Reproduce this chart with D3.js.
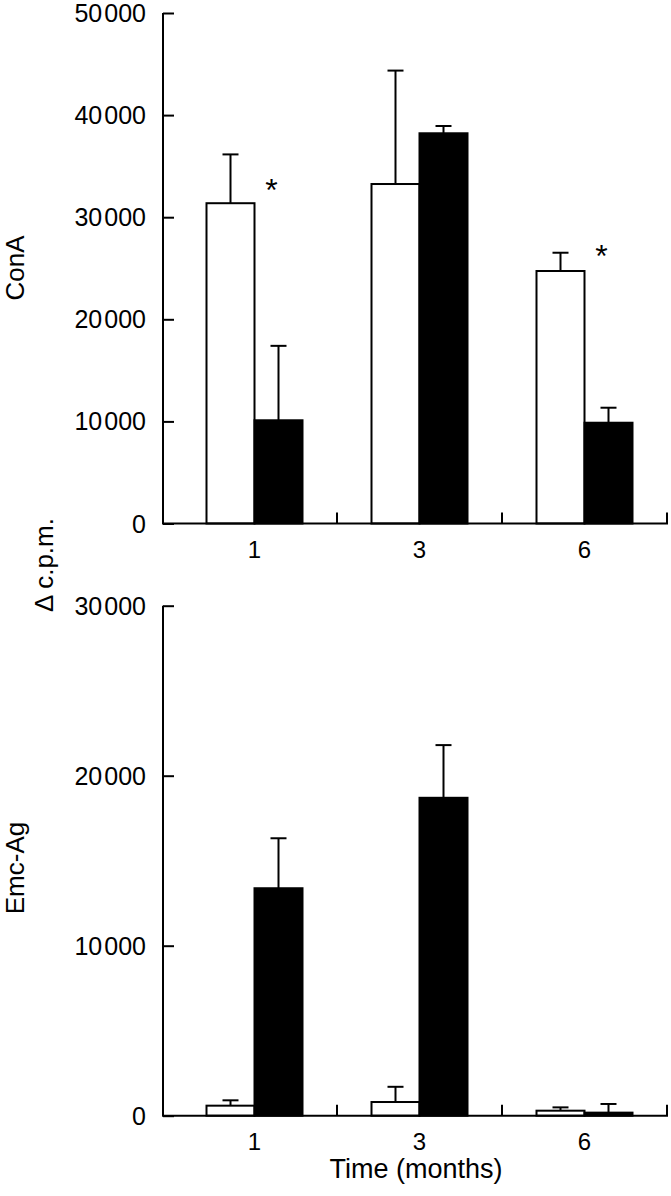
<!DOCTYPE html>
<html>
<head>
<meta charset="utf-8">
<script src="https://cdn.jsdelivr.net/npm/d3@7"></script>
<style>
  body { margin: 0; background: #fff; }
  text { font-family: "Liberation Sans", Arial, Helvetica, sans-serif; fill: #000; }
</style>
</head>
<body>
<div id="chart"></div>
<script>
// categories (time in months)
var months = ["1", "3", "6"];

// ConA panel: open bars, filled bars and their error (upper SD)
var conaOpen = [31370, 33250, 24730];
var conaOpenErr = [4780, 11110, 1790];
var conaFilled = [10110, 38220, 9870];
var conaFilledErr = [7290, 710, 1470];
var conaTicks = [0, 10000, 20000, 30000, 40000, 50000];
// significance stars (month, value where the star sits)
var conaStars = [["1", 33400], ["6", 26900]];

// Emc-Ag panel
var emcOpen = [590, 805, 295];
var emcOpenErr = [315, 895, 195];
var emcFilled = [13380, 18700, 180];
var emcFilledErr = [2940, 3100, 510];
var emcTicks = [0, 10000, 20000, 30000];

var width = 671, height = 1196;
var axisX = 163;
var barW = 48;

var svg = d3.select("#chart")
  .append("svg")
    .attr("width", width)
    .attr("height", height);

// shared band scale for the three time points
var x = d3.scaleBand()
  .domain(months)
  .range([172, 667]);

// tick label format "50 000" with a hair space
function fmt(v) {
  return d3.format(",")(v).replace(",", "\u200A");
}

function drawPanel(opt) {
  var y = d3.scaleLinear()
    .domain([0, opt.max])
    .range([opt.bottom, opt.top]);

  var g = svg.append("g");

  // bars: open (white) left of band centre, filled (black) right
  months.forEach(function(m, i) {
    var c = x(m) + x.bandwidth() / 2;
    var sets = [
      {v: opt.open[i], e: opt.openErr[i], x0: c - barW, fill: "#fff"},
      {v: opt.filled[i], e: opt.filledErr[i], x0: c, fill: "#000"}
    ];
    sets.forEach(function(s) {
      var cx = s.x0 + barW / 2;
      // error bar line + cap
      g.append("line")
        .attr("x1", cx).attr("x2", cx)
        .attr("y1", y(s.v)).attr("y2", y(s.v + s.e))
        .attr("stroke", "#000").attr("stroke-width", 2);
      g.append("line")
        .attr("x1", cx - 8).attr("x2", cx + 8)
        .attr("y1", y(s.v + s.e)).attr("y2", y(s.v + s.e))
        .attr("stroke", "#000").attr("stroke-width", 2);
      g.append("rect")
        .attr("x", s.x0)
        .attr("y", y(s.v))
        .attr("width", barW)
        .attr("height", y(0) - y(s.v))
        .attr("fill", s.fill)
        .attr("stroke", "#000")
        .attr("stroke-width", 2);
    });
  });

  // y axis (ticks pointing inward)
  var yAxis = d3.axisRight(y)
    .tickValues(opt.ticks)
    .tickSize(11)
    .tickFormat("");
  var ya = g.append("g")
    .attr("transform", "translate(" + axisX + ",0)")
    .call(yAxis);
  ya.select(".domain")
    .attr("d", "M0," + y(opt.max) + "V" + y(0))
    .attr("stroke-width", 2);
  ya.selectAll(".tick line").attr("stroke-width", 2);

  g.selectAll("text.ylab")
    .data(opt.ticks)
    .enter()
    .append("text")
      .attr("class", "ylab")
      .attr("x", 146)
      .attr("y", function(d) { return y(d); })
      .attr("dy", "0.36em")
      .attr("text-anchor", "end")
      .style("font-size", "25px")
      .text(fmt);

  // x axis: baseline plus upward ticks at group boundaries
  g.append("line")
    .attr("x1", axisX - 1).attr("x2", x.range()[1] + 1)
    .attr("y1", y(0)).attr("y2", y(0))
    .attr("stroke", "#000").attr("stroke-width", 2);
  g.selectAll("line.xtick")
    .data(months)
    .enter()
    .append("line")
      .attr("class", "xtick")
      .attr("x1", function(d) { return x(d) + x.bandwidth(); })
      .attr("x2", function(d) { return x(d) + x.bandwidth(); })
      .attr("y1", y(0)).attr("y2", y(0) - 11)
      .attr("stroke", "#000").attr("stroke-width", 2);

  g.selectAll("text.xlab")
    .data(months)
    .enter()
    .append("text")
      .attr("class", "xlab")
      .attr("x", function(d) { return x(d) + x.bandwidth() / 2; })
      .attr("y", y(0) + 34)
      .attr("text-anchor", "middle")
      .style("font-size", "24px")
      .text(function(d) { return d; });

  // stars
  g.selectAll("text.star")
    .data(opt.stars || [])
    .enter()
    .append("text")
      .attr("class", "star")
      .attr("x", function(d) { return x(d[0]) + x.bandwidth() / 2 + barW / 2 - 7; })
      .attr("y", function(d) { return y(d[1]); })
      .attr("dy", "0.58em")
      .attr("text-anchor", "middle")
      .style("font-size", "32px")
      .text("*");

  // rotated panel label
  g.append("text")
    .attr("transform", "translate(24," + opt.labelY + ") rotate(-90)")
    .attr("text-anchor", "middle")
    .style("font-size", "26px")
    .text(opt.label);

  return y;
}

drawPanel({
  max: 50000, top: 13, bottom: 523.5,
  open: conaOpen, openErr: conaOpenErr,
  filled: conaFilled, filledErr: conaFilledErr,
  ticks: conaTicks, stars: conaStars,
  label: "ConA", labelY: 268
});

drawPanel({
  max: 30000, top: 605.7, bottom: 1115.7,
  open: emcOpen, openErr: emcOpenErr,
  filled: emcFilled, filledErr: emcFilledErr,
  ticks: emcTicks,
  label: "Emc-Ag", labelY: 868
});

// shared y title
svg.append("text")
  .attr("transform", "translate(53,565) rotate(-90)")
  .attr("text-anchor", "middle")
  .style("font-size", "26px")
  .text("\u0394 c.p.m.");

// x title
svg.append("text")
  .attr("x", 416)
  .attr("y", 1178)
  .attr("text-anchor", "middle")
  .style("font-size", "27px")
  .text("Time (months)");
</script>
</body>
</html>
